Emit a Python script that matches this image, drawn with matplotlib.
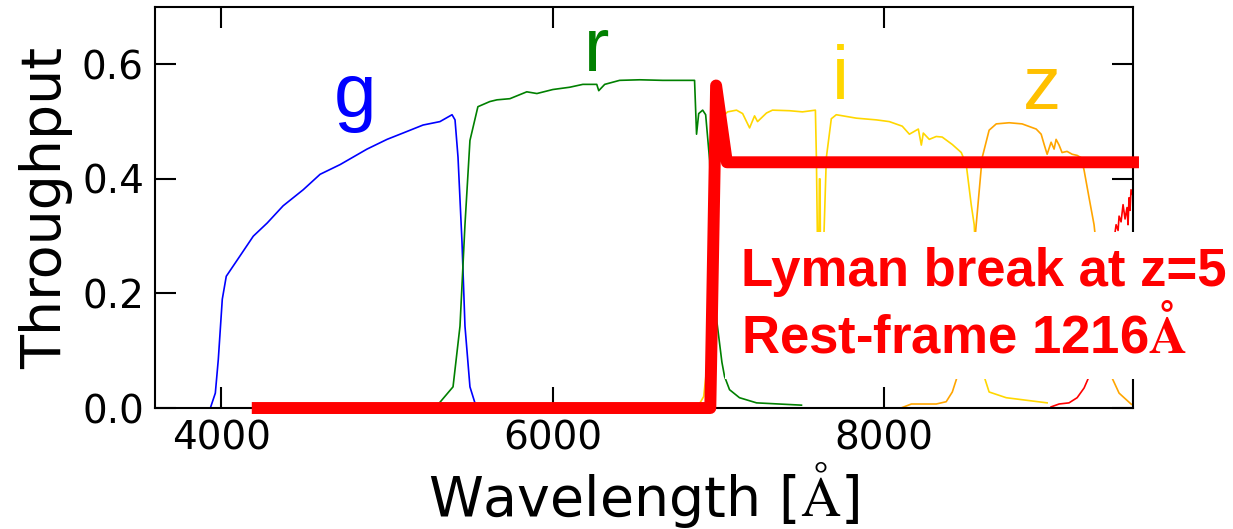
import matplotlib
matplotlib.use('Agg')
import matplotlib.pyplot as plt

plt.rcParams['mathtext.fontset'] = 'stix'

# filter throughput curves (wavelength in Angstrom, throughput)
g_wave = [3600, 3934, 3964, 3982, 4006, 4030, 4114, 4193, 4277, 4373, 4494, 4596, 4717,
          4879, 5000, 5096, 5217, 5319, 5392, 5410, 5428, 5452, 5470, 5500, 5530, 5560]
g_thru = [0.0, 0.0, 0.026, 0.085, 0.19, 0.23, 0.266, 0.30, 0.323, 0.353, 0.381, 0.408, 0.425,
          0.452, 0.469, 0.48, 0.494, 0.50, 0.512, 0.503, 0.438, 0.29, 0.143, 0.037, 0.009, 0.0]

r_wave = [5280, 5319, 5398, 5440, 5470, 5500, 5548, 5620, 5663, 5741, 5843, 5904, 6000, 6102,
          6181, 6265, 6277, 6313, 6403, 6524, 6663, 6783, 6855, 6867, 6880, 6904, 6922, 6946,
          6960, 6990, 7020, 7036, 7066, 7126, 7229, 7500]
r_thru = [0.0, 0.01, 0.037, 0.143, 0.32, 0.467, 0.526, 0.535, 0.538, 0.54, 0.552, 0.549, 0.556, 0.56,
          0.565, 0.565, 0.554, 0.565, 0.572, 0.573, 0.572, 0.572, 0.572, 0.478, 0.514, 0.52, 0.512, 0.432,
          0.30, 0.15, 0.08, 0.055, 0.032, 0.018, 0.009, 0.005]

i_wave = [6800, 6880, 6910, 6940, 6970, 7000, 7030, 7054, 7108, 7145, 7187, 7217, 7235, 7289,
          7325, 7428, 7506, 7584, 7590, 7596, 7602, 7608, 7612, 7616, 7620, 7630, 7650, 7680,
          7710, 7831, 7952, 8030, 8108, 8151, 8193, 8205, 8223, 8235, 8271, 8313, 8349, 8410,
          8464, 8494, 8524, 8542, 8565, 8585, 8602, 8632, 8735, 8982]
i_thru = [0.0, 0.005, 0.02, 0.1, 0.3, 0.45, 0.51, 0.517, 0.52, 0.514, 0.489, 0.51, 0.50, 0.515,
          0.52, 0.519, 0.517, 0.52, 0.437, 0.30, 0.18, 0.40, 0.40, 0.20, 0.12, 0.25, 0.437, 0.505,
          0.512, 0.506, 0.503, 0.50, 0.492, 0.478, 0.485, 0.487, 0.459, 0.48, 0.469, 0.474, 0.473, 0.46,
          0.446, 0.425, 0.355, 0.32, 0.18, 0.09, 0.055, 0.028, 0.018, 0.009]

z_wave = [8100, 8163, 8313, 8373, 8410, 8440, 8490, 8525, 8554, 8590, 8632, 8675, 8753, 8831,
          8916, 8946, 8964, 8982, 9006, 9024, 9036, 9054, 9072, 9102, 9133, 9163, 9187, 9205,
          9235, 9265, 9310, 9345, 9373, 9416, 9488, 9500]
z_thru = [0.0, 0.007, 0.007, 0.011, 0.028, 0.055, 0.13, 0.22, 0.32, 0.437, 0.485, 0.496, 0.498, 0.496,
          0.487, 0.478, 0.46, 0.443, 0.464, 0.452, 0.469, 0.459, 0.446, 0.448, 0.443, 0.441, 0.437, 0.415,
          0.367, 0.32, 0.2, 0.1, 0.053, 0.026, 0.007, 0.005]

y_wave = [9006, 9054, 9114, 9163, 9205, 9235, 9300, 9360, 9398, 9410, 9416, 9428, 9440, 9452,
          9464, 9470, 9476, 9482, 9488, 9500]
y_thru = [0.002, 0.007, 0.009, 0.018, 0.035, 0.055, 0.12, 0.24, 0.32, 0.31, 0.335, 0.325, 0.355, 0.33,
          0.35, 0.32, 0.367, 0.345, 0.381, 0.37]

# idealised spectrum with a Lyman break redshifted to z=5
lyb_wave = [4220, 6950, 6985, 7050, 9500]
lyb_flux = [0.0, 0.0, 0.563, 0.429, 0.429]

band_names = ['g', 'r', 'i', 'z']
band_colors = ['blue', 'green', 'gold', '#FFC000']
label_x = [4807, 6265, 7735, 8952]
label_y = [0.508, 0.588, 0.540, 0.522]

fig = plt.figure(figsize=(12.33, 5.29), dpi=100)
ax = fig.add_axes([0.1257, 0.2287, 0.7932, 0.7580])

lw = 1.2
ax.plot(g_wave, g_thru, color='blue', lw=lw)
ax.plot(r_wave, r_thru, color='green', lw=lw)
ax.plot(i_wave, i_thru, color='gold', lw=lw)
ax.plot(z_wave, z_thru, color='orange', lw=lw)
ax.plot(y_wave, y_thru, color='red', lw=lw)

ax.plot(lyb_wave, lyb_flux, color='red', lw=8.6, clip_on=False, zorder=4)

for name, col, lx, ly in zip(band_names, band_colors, label_x, label_y):
    ax.text(lx, ly, name, color=col, fontsize=55, family='Liberation Sans',
            ha='center', va='baseline')

# multi-line text: the baseline anchor refers to the last line
ax.text(7133, 0.097, 'Lyman break at z=5\nRest-frame 1216$\\mathbf{\\AA}$',
        color='red', fontsize=38, fontweight='bold', family='Liberation Sans',
        ha='left', va='baseline', zorder=5,
        bbox=dict(facecolor='white', edgecolor='none', pad=11))

ax.set_xlim(3600, 9500)
ax.set_ylim(0, 0.7)
ax.set_xticks([4000, 6000, 8000])
ax.set_yticks([0.0, 0.2, 0.4, 0.6])
ax.tick_params(direction='in', length=15, width=1.5, labelsize=28,
               top=True, right=True, pad=8)
for sp in ax.spines.values():
    sp.set_linewidth(1.5)

ax.set_xlabel('Wavelength [$\\mathrm{\\AA}$]', fontsize=40, labelpad=2)
ax.set_ylabel('Throughput', fontsize=40, labelpad=6)

fig.savefig('out.png', dpi=100)
